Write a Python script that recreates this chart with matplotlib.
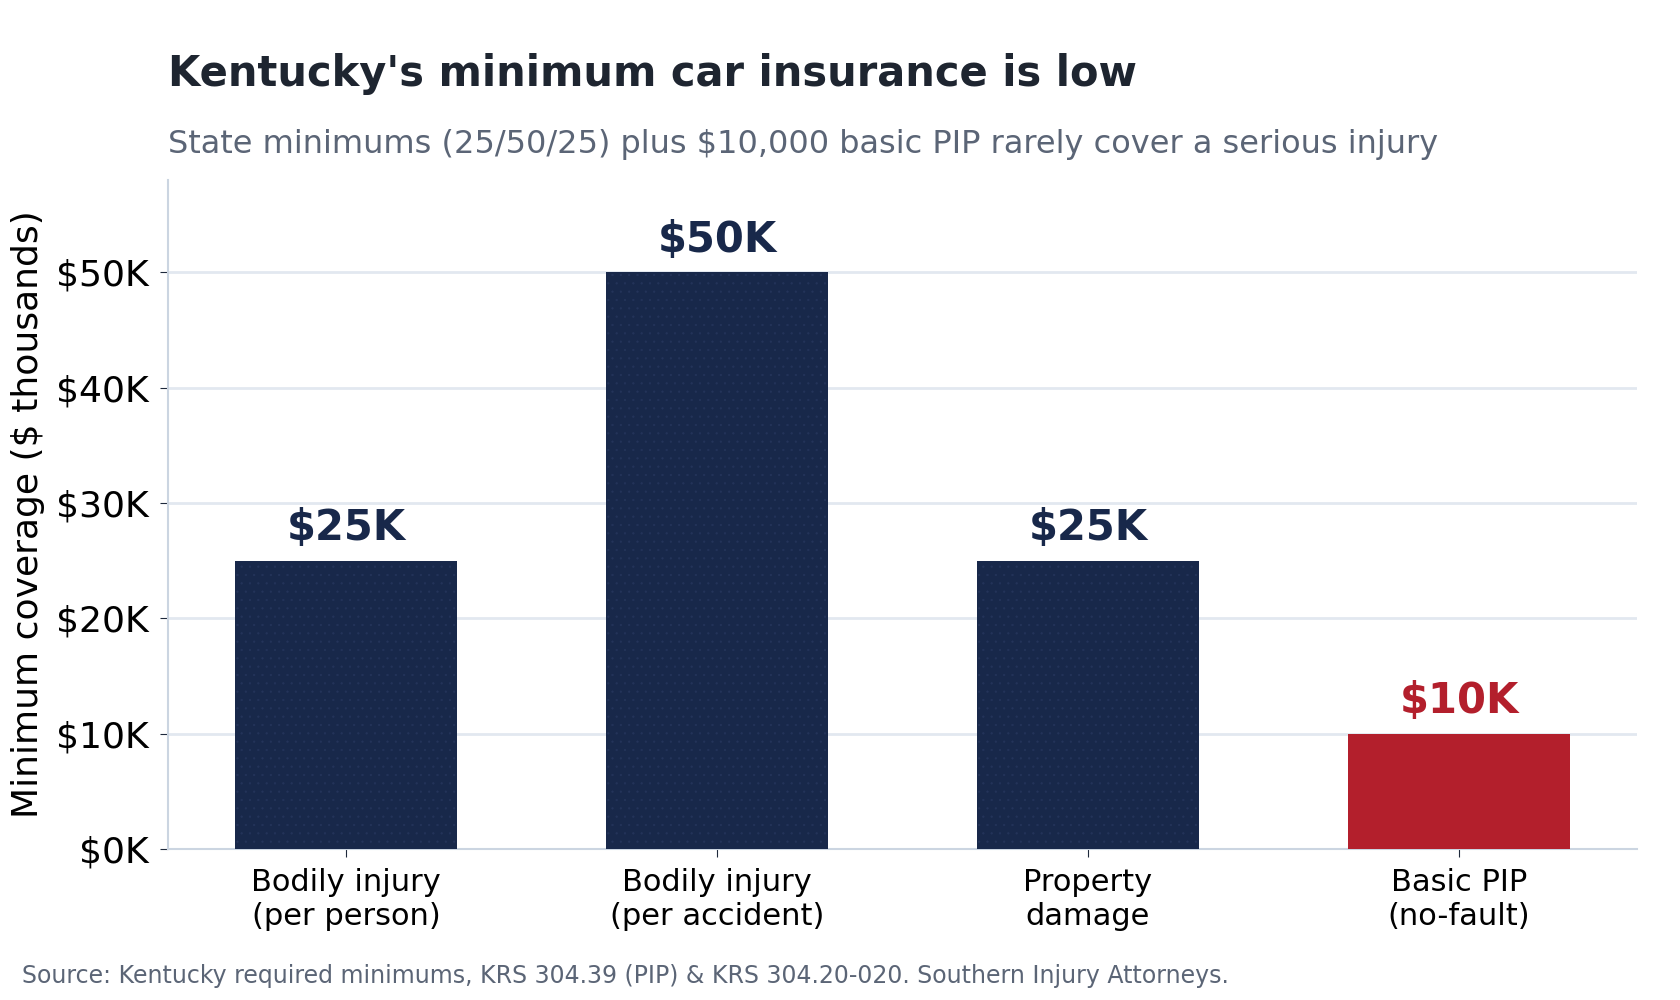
import numpy as np
import matplotlib.pyplot as plt
from matplotlib.ticker import FuncFormatter

# data
categories = ["Bodily injury\n(per person)", "Bodily injury\n(per accident)",
              "Property\ndamage", "Basic PIP\n(no-fault)"]
values = [25, 50, 25, 10]
labels = ["$25K", "$50K", "$25K", "$10K"]
navy = "#18284a"
red = "#b31f2c"
colors = [navy, navy, navy, red]

plt.rcParams["hatch.linewidth"] = 0.4

fig = plt.figure(figsize=(16.8, 10), dpi=100)
ax = fig.add_axes([168 / 1680, 1 - 849 / 1000, (1637 - 168) / 1680, (849 - 180) / 1000])

x = np.arange(len(values))
bars = ax.bar(x, values, width=0.6, color=colors, zorder=3, linewidth=0)
for b, c in zip(bars, colors):
    b.set_hatch("..")
    b.set_edgecolor("#24345a" if c == navy else c)

for xi, v, lab, c in zip(x, values, labels, colors):
    ax.text(xi, v + 1.0, lab, ha="center", va="bottom", fontsize=30,
            fontweight="bold", color=c)

ax.set_xlim(-0.48, 3.48)
ax.set_ylim(0, 58)
ax.set_yticks([0, 10, 20, 30, 40, 50])
ax.yaxis.set_major_formatter(FuncFormatter(lambda v, p: f"${int(v)}K"))
ax.set_xticks(x)
ax.set_xticklabels(categories, fontsize=22)
ax.tick_params(axis="y", labelsize=26, length=6, color="#1e293b", pad=8)
ax.tick_params(axis="x", length=6, color="#1e293b", pad=8)
ax.grid(axis="y", color="#e2e8f0", linewidth=2, zorder=0)
ax.set_axisbelow(True)
for s in ["top", "right"]:
    ax.spines[s].set_visible(False)
for s in ["left", "bottom"]:
    ax.spines[s].set_color("#cbd5e1")
    ax.spines[s].set_linewidth(1.5)

ax.set_ylabel("Minimum coverage ($ thousands)", fontsize=26, labelpad=8)

fig.text(168 / 1680, 1 - 74 / 1000, "Kentucky's minimum car insurance is low",
         fontsize=30, fontweight="bold", color="#1e2530", va="center", ha="left")
fig.text(168 / 1680, 1 - 145 / 1000,
         "State minimums (25/50/25) plus $10,000 basic PIP rarely cover a serious injury",
         fontsize=23, color="#5b6576", va="center", ha="left")
fig.text(22 / 1680, 1 - 976 / 1000,
         "Source: Kentucky required minimums, KRS 304.39 (PIP) & KRS 304.20-020. Southern Injury Attorneys.",
         fontsize=17, color="#5b6576", va="center", ha="left")

fig.savefig("out.png", dpi=100)
